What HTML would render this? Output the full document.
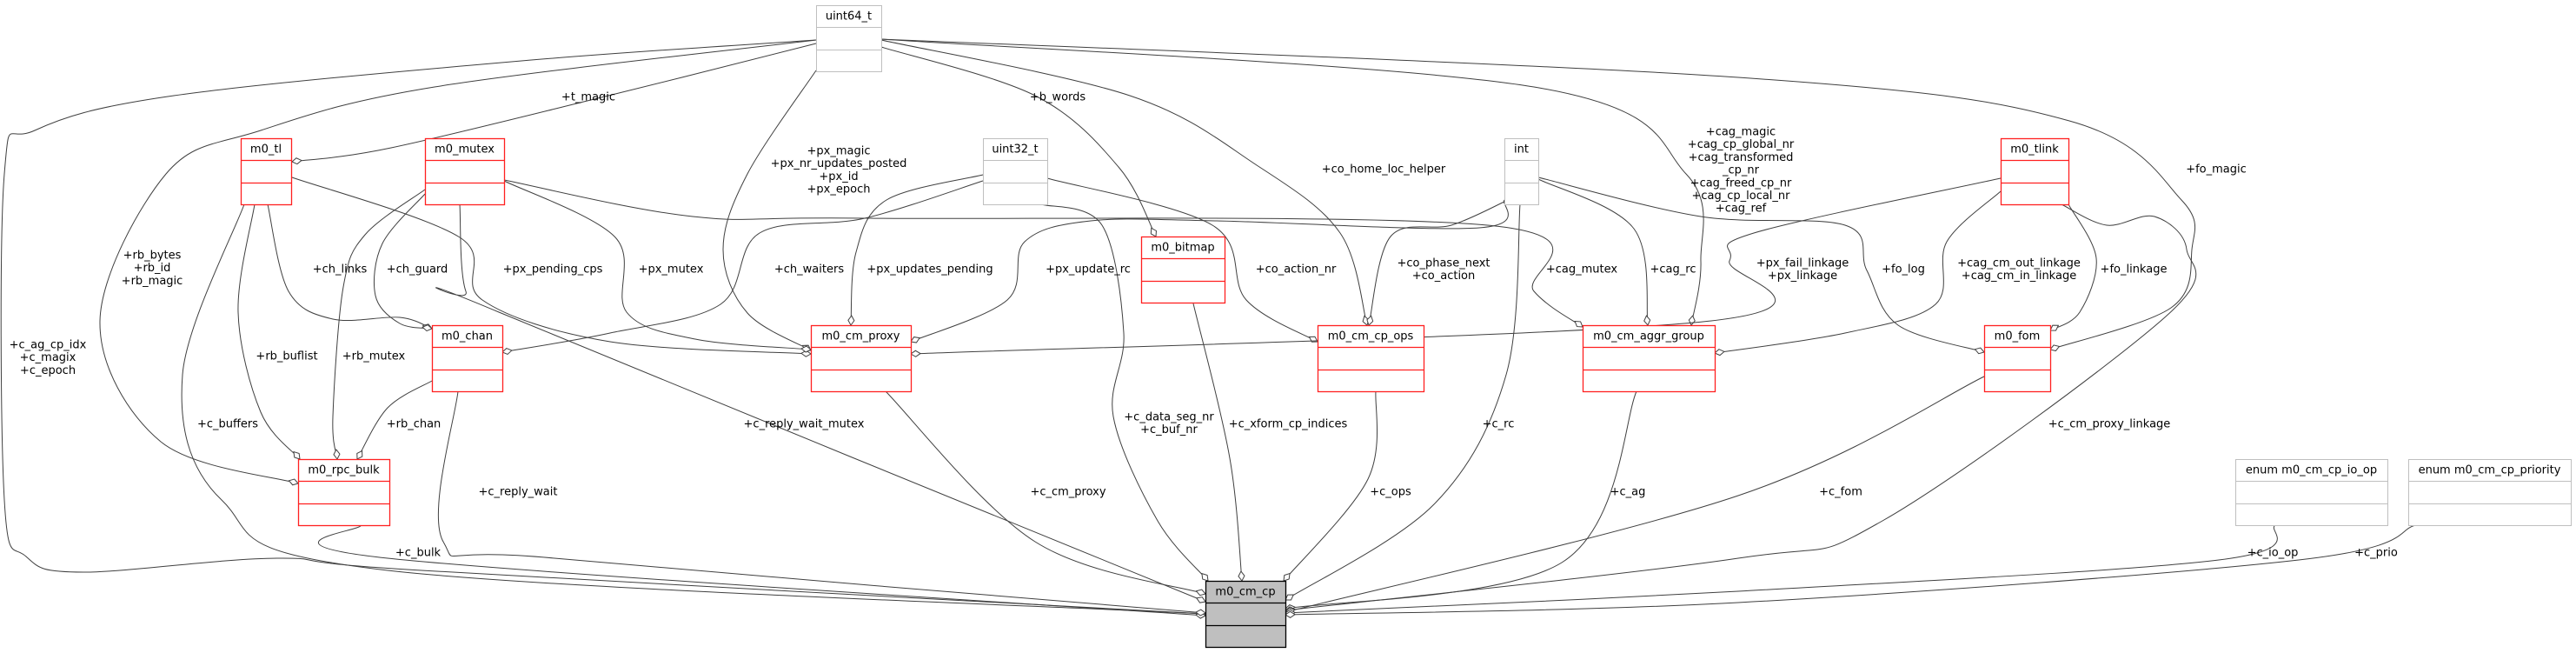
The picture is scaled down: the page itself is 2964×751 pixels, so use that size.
<!DOCTYPE html>
<html><head><meta charset="utf-8">
<style>
html,body{margin:0;padding:0;background:#fff;}
svg{display:block;}
text{font-family:"DejaVu Sans","Liberation Sans",sans-serif;font-size:13px;fill:#000;}
</style></head>
<body>
<svg id="s" width="2964" height="751" viewBox="0 0 2964 751" xmlns="http://www.w3.org/2000/svg">
<defs>
<marker id="d" markerUnits="userSpaceOnUse" markerWidth="14" markerHeight="10" refX="12" refY="4" orient="auto">
<path d="M1,4 L6.5,0.5 L12,4 L6.5,7.5 z" fill="#fff" stroke="#404040" stroke-width="1"/>
</marker>
</defs>
<g id="edges" fill="none" stroke="#404040" stroke-width="1"></g>
<g id="boxes"></g>
<g id="labels" text-anchor="middle" dominant-baseline="central"></g>
</svg>
<script>
var NS="http://www.w3.org/2000/svg";
var E=[
[[939,46],[600,70],[200,110],[40,150],[5,200],[5,575],[30,640],[96,658],[319,642],[485,656],[1387,706]],
[[939,50],[700,110],[450,170],[336,186]],
[[939,46],[500,100],[300,150],[191,200],[115,369],[185,508],[343,556]],
[[939,81],[860,200],[832,287],[860,360],[933,403]],
[[1014,54],[1191,110],[1287,192],[1330,272]],
[[1014,46],[1300,110],[1446,190],[1542,268],[1573,374]],
[[1014,45],[1765,100],[1940,200],[1957,300],[1946,374]],
[[1014,45],[2000,89],[2381,139],[2510,230],[2522,287],[2498,354],[2359,402]],
[[281,235],[210,431],[255,575],[446,656],[1387,706]],
[[293,235],[274,359],[300,474],[345,528]],
[[308,235],[332,335],[383,367],[460,365],[497,378]],
[[336,204],[529,273],[555,345],[702,393],[933,407]],
[[489,218],[420,270],[395,330],[383,479],[388,528]],
[[489,223],[440,280],[432,340],[460,372],[497,378]],
[[529,235],[536,335],[574,359],[1387,692]],
[[580,208],[708,273],[721,359],[800,390],[933,402]],
[[580,207],[797,249],[1000,251],[1721,260],[1765,335],[1821,376]],
[[1131,208],[995,251],[874,268],[829,350],[702,383],[578,405]],
[[1131,201],[1020,230],[985,290],[979,374]],
[[1198,235],[1268,259],[1293,383],[1281,479],[1332,599],[1390,668]],
[[1205,205],[1395,259],[1434,345],[1516,393]],
[[1731,230],[1702,262],[1400,254],[1255,254],[1179,278],[1159,345],[1048,393]],
[[1731,232],[1670,259],[1600,272],[1575,374]],
[[1749,235],[1733,431],[1650,580],[1479,690]],
[[1770,206],[1880,263],[1896,374]],
[[1770,204],[1957,249],[2123,259],[2148,311],[2184,374],[2283,405]],
[[1019,450],[1191,623],[1387,683]],
[[1373,349],[1415,527],[1429,668]],
[[1583,450],[1574,551],[1477,668]],
[[1883,450],[1797,647],[1479,700]],
[[2302,205],[2018,268],[1990,300],[1969,369],[1048,407]],
[[2302,220],[2240,278],[2227,350],[2123,383],[1973,406]],
[[2380,235],[2412,297],[2393,359],[2359,380]],
[[2372,235],[2424,259],[2479,249],[2516,287],[2492,364],[2166,599],[2000,642],[1479,702]],
[[2283,433],[2000,570],[1479,704]],
[[2618,604],[2553,644],[2000,680],[1479,705]],
[[2779,604],[2645,644],[2000,693],[1479,707]],
[[415,604],[446,642],[1387,708]],
[[497,438],[446,469],[411,528]],
[[527,450],[510,623],[638,642],[1387,705]]
];
function cr(p){var d="M"+p[0][0]+","+p[0][1];for(var i=0;i<p.length-1;i++){var a=p[i-1]||p[i],b=p[i],c=p[i+1],e=p[i+2]||c;
var c1=[b[0]+(c[0]-a[0])/6,b[1]+(c[1]-a[1])/6],c2=[c[0]-(e[0]-b[0])/6,c[1]-(e[1]-b[1])/6];
d+=" C"+c1[0].toFixed(1)+","+c1[1].toFixed(1)+" "+c2[0].toFixed(1)+","+c2[1].toFixed(1)+" "+c[0]+","+c[1];}return d;}
var g=document.getElementById("edges");
E.forEach(function(p){var el=document.createElementNS(NS,"path");el.setAttribute("d",cr(p));el.setAttribute("marker-end","url(#d)");g.appendChild(el);});
var B=[
["uint64_t",939,1014,6,0],["m0_tl",277,335,159,1],["m0_mutex",489,580,159,1],["uint32_t",1131,1205,159,0],
["int",1731,1770,159,0],["m0_tlink",2302,2380,159,1],["m0_bitmap",1313,1409,272,1],["m0_chan",497,578,374,1],
["m0_cm_proxy",933,1048,374,1],["m0_cm_cp_ops",1516,1638,374,1],["m0_cm_aggr_group",1821,1973,374,1],
["m0_fom",2283,2359,374,1],["m0_rpc_bulk",343,448,528,1],["enum m0_cm_cp_io_op",2572,2747,528,0],
["enum m0_cm_cp_priority",2771,2958,528,0],["m0_cm_cp",1387,1479,668,2]];
var bg=document.getElementById("boxes");
B.forEach(function(b){var x=b[1],w=b[2]-b[1],y=b[3],t=b[4];
var st=t==1?"#ff2020":(t==2?"#000":"#bfbfbf"),fl=t==2?"#bfbfbf":"#fff";
var r=document.createElementNS(NS,"rect");r.setAttribute("x",x+0.5);r.setAttribute("y",y+0.5);r.setAttribute("width",w);r.setAttribute("height",76);
r.setAttribute("fill",fl);r.setAttribute("stroke",st);r.setAttribute("stroke-width",t==0?1:1.3);bg.appendChild(r);
[25,51].forEach(function(o){var l=document.createElementNS(NS,"line");l.setAttribute("x1",x+0.5);l.setAttribute("x2",x+w+0.5);l.setAttribute("y1",y+o+0.5);l.setAttribute("y2",y+o+0.5);l.setAttribute("stroke",st);l.setAttribute("stroke-width",t==0?1:1.3);bg.appendChild(l);});
var tx=document.createElementNS(NS,"text");tx.setAttribute("x",x+w/2);tx.setAttribute("y",y+13);tx.setAttribute("text-anchor","middle");tx.setAttribute("dominant-baseline","central");tx.textContent=b[0];bg.appendChild(tx);});
var L=[
[55,397,["+c_ag_cp_idx","+c_magix","+c_epoch"]],[677,112,["+t_magic"]],[175,294,["+rb_bytes","+rb_id","+rb_magic"]],
[965,174,["+px_magic","+px_nr_updates_posted","+px_id","+px_epoch"]],[1217,112,["+b_words"]],[1592,195,["+co_home_loc_helper"]],
[2003,152,["+cag_magic","+cag_cp_global_nr","+cag_transformed","_cp_nr","+cag_freed_cp_nr","+cag_cp_local_nr","+cag_ref"]],
[2550,195,["+fo_magic"]],[262,488,["+c_buffers"]],[330,410,["+rb_buflist"]],[391,310,["+ch_links"]],[636,310,["+px_pending_cps"]],
[430,410,["+rb_mutex"]],[480,310,["+ch_guard"]],[925,488,["+c_reply_wait_mutex"]],[772,310,["+px_mutex"]],[1820,310,["+cag_mutex"]],
[931,310,["+ch_waiters"]],[1070,310,["+px_updates_pending"]],[1345,480,["+c_data_seg_nr","+c_buf_nr"]],[1491,310,["+co_action_nr"]],
[1252,310,["+px_update_rc"]],[1661,303,["+co_phase_next","+co_action"]],[1724,488,["+c_rc"]],[1925,310,["+cag_rc"]],[2190,310,["+fo_log"]],
[1229,566,["+c_cm_proxy"]],[1482,488,["+c_xform_cp_indices"]],[1600,566,["+c_ops"]],[1873,566,["+c_ag"]],
[2074,303,["+px_fail_linkage","+px_linkage"]],[2323,303,["+cag_cm_out_linkage","+cag_cm_in_linkage"]],[2455,310,["+fo_linkage"]],
[2427,488,["+c_cm_proxy_linkage"]],[2118,566,["+c_fom"]],[2615,636,["+c_io_op"]],[2734,636,["+c_prio"]],[481,636,["+c_bulk"]],
[476,488,["+rb_chan"]],[596,566,["+c_reply_wait"]]];
var lg=document.getElementById("labels");
L.forEach(function(l){l[2].forEach(function(s,i){var t=document.createElementNS(NS,"text");t.setAttribute("x",l[0]);t.setAttribute("y",l[1]+i*14.7);t.textContent=s;lg.appendChild(t);});});
</script>
</body></html>
